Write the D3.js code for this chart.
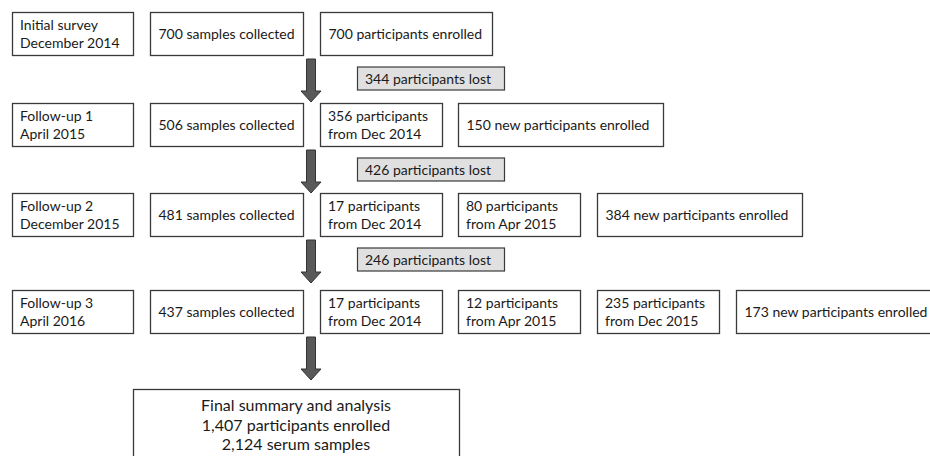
<!DOCTYPE html>
<html>
<head>
<meta charset="utf-8">
<script src="https://cdn.jsdelivr.net/npm/d3@7"></script>
<style>
  body { margin: 0; background: #fff; }
  svg { display: block; }
  text { font-family: Lato, "Open Sans", sans-serif; font-size: 14px; fill: #1a1a1a; }
</style>
</head>
<body>
<svg width="930" height="456"></svg>
<script>
// survey rounds
const stages = [
    ['Initial survey', 'December 2014'],
    ['Follow-up 1', 'April 2015'],
    ['Follow-up 2', 'December 2015'],
    ['Follow-up 3', 'April 2016']
];
const samplesCollected = [700, 506, 481, 437];
// participants coming back from earlier rounds (Dec 2014, Apr 2015, Dec 2015)
const returning = [[], [356], [17, 80], [17, 12, 235]];
const returnLabels = ['Dec 2014', 'Apr 2015', 'Dec 2015'];
const newEnrolled = [700, 150, 384, 173];
const lost = [344, 426, 246];
const finalLines = ['Final summary and analysis', '1,407 participants enrolled', '2,124 serum samples'];

const svg = d3.select('svg');

const rowTop = d3.scaleOrdinal().domain(d3.range(4)).range([12, 103, 193, 290]);
const colLeft = d3.scaleOrdinal().domain(d3.range(6)).range([12, 150, 320, 458, 597, 736]);
const boxH = 43;
const arrowX = 311;

const boxes = [];
stages.forEach((s, i) => {
    boxes.push({ row: i, col: 0, w: 121, lines: s });
    boxes.push({ row: i, col: 1, w: 153, lines: [`${samplesCollected[i]} samples collected`] });
    returning[i].forEach((n, j) => {
        boxes.push({ row: i, col: 2 + j, w: 122, lines: [`${n} participants`, `from ${returnLabels[j]}`] });
    });
    boxes.push({
        row: i, col: 2 + returning[i].length,
        w: i === 0 ? 172 : 205,
        lines: [i === 0 ? `${newEnrolled[i]} participants enrolled` : `${newEnrolled[i]} new participants enrolled`]
    });
});

const g = svg.append('g');

const bg = g.selectAll('g.box').data(boxes).enter().append('g')
    .attr('class', 'box')
    .attr('transform', d => `translate(${colLeft(d.col)},${rowTop(d.row)})`);

bg.append('rect')
    .attr('x', 0.5).attr('y', 0.5)
    .attr('width', d => d.w).attr('height', boxH)
    .attr('fill', '#fff')
    .attr('stroke', '#3a3a3a')
    .attr('stroke-width', 1.3);

bg.each(function (d) {
    const sel = d3.select(this);
    if (d.lines.length === 1) {
        sel.append('text')
            .attr('x', 8.5)
            .attr('y', 27)
            .text(d.lines[0]);
    } else {
        d.lines.forEach((t, k) => {
            sel.append('text')
                .attr('x', 8)
                .attr('y', 18 + k * 18)
                .text(t);
        });
    }
});

// arrows between rounds
const arrowStarts = d3.range(4).map(i => rowTop(i) + boxH + 4);
const arrowLen = 43;
const arrow = y0 => {
    const p = d3.path();
    p.moveTo(arrowX - 4.5, y0);
    p.lineTo(arrowX + 4.5, y0);
    p.lineTo(arrowX + 4.5, y0 + arrowLen - 11);
    p.lineTo(arrowX + 10, y0 + arrowLen - 11);
    p.lineTo(arrowX, y0 + arrowLen);
    p.lineTo(arrowX - 10, y0 + arrowLen - 11);
    p.lineTo(arrowX - 4.5, y0 + arrowLen - 11);
    p.closePath();
    return p.toString();
};

g.selectAll('path.arrow').data(arrowStarts).enter().append('path')
    .attr('class', 'arrow')
    .attr('d', d => arrow(d))
    .attr('fill', '#595959')
    .attr('stroke', '#333')
    .attr('stroke-width', 1);

// participants lost
const lg = g.selectAll('g.lost').data(lost).enter().append('g')
    .attr('class', 'lost')
    .attr('transform', (d, i) => `translate(357,${arrowStarts[i] + arrowLen / 2 - 14})`);

lg.append('rect')
    .attr('x', 0.5).attr('y', 0.5)
    .attr('width', 147).attr('height', 23)
    .attr('fill', '#e0e0e0')
    .attr('stroke', '#3a3a3a')
    .attr('stroke-width', 1.2);

lg.append('text')
    .attr('x', 8)
    .attr('y', 17)
    .text(d => `${d} participants lost`);

// final summary
const fg = g.append('g').attr('transform', 'translate(133,389)');
fg.append('rect')
    .attr('x', 0.5).attr('y', 0.5)
    .attr('width', 326).attr('height', 80)
    .attr('fill', '#fff')
    .attr('stroke', '#3a3a3a')
    .attr('stroke-width', 1.3);
fg.selectAll('text').data(finalLines).enter().append('text')
    .attr('x', 163)
    .attr('y', (d, i) => 22 + i * 19.5)
    .attr('text-anchor', 'middle')
    .style('font-size', '16px')
    .text(d => d);
</script>
</body>
</html>
